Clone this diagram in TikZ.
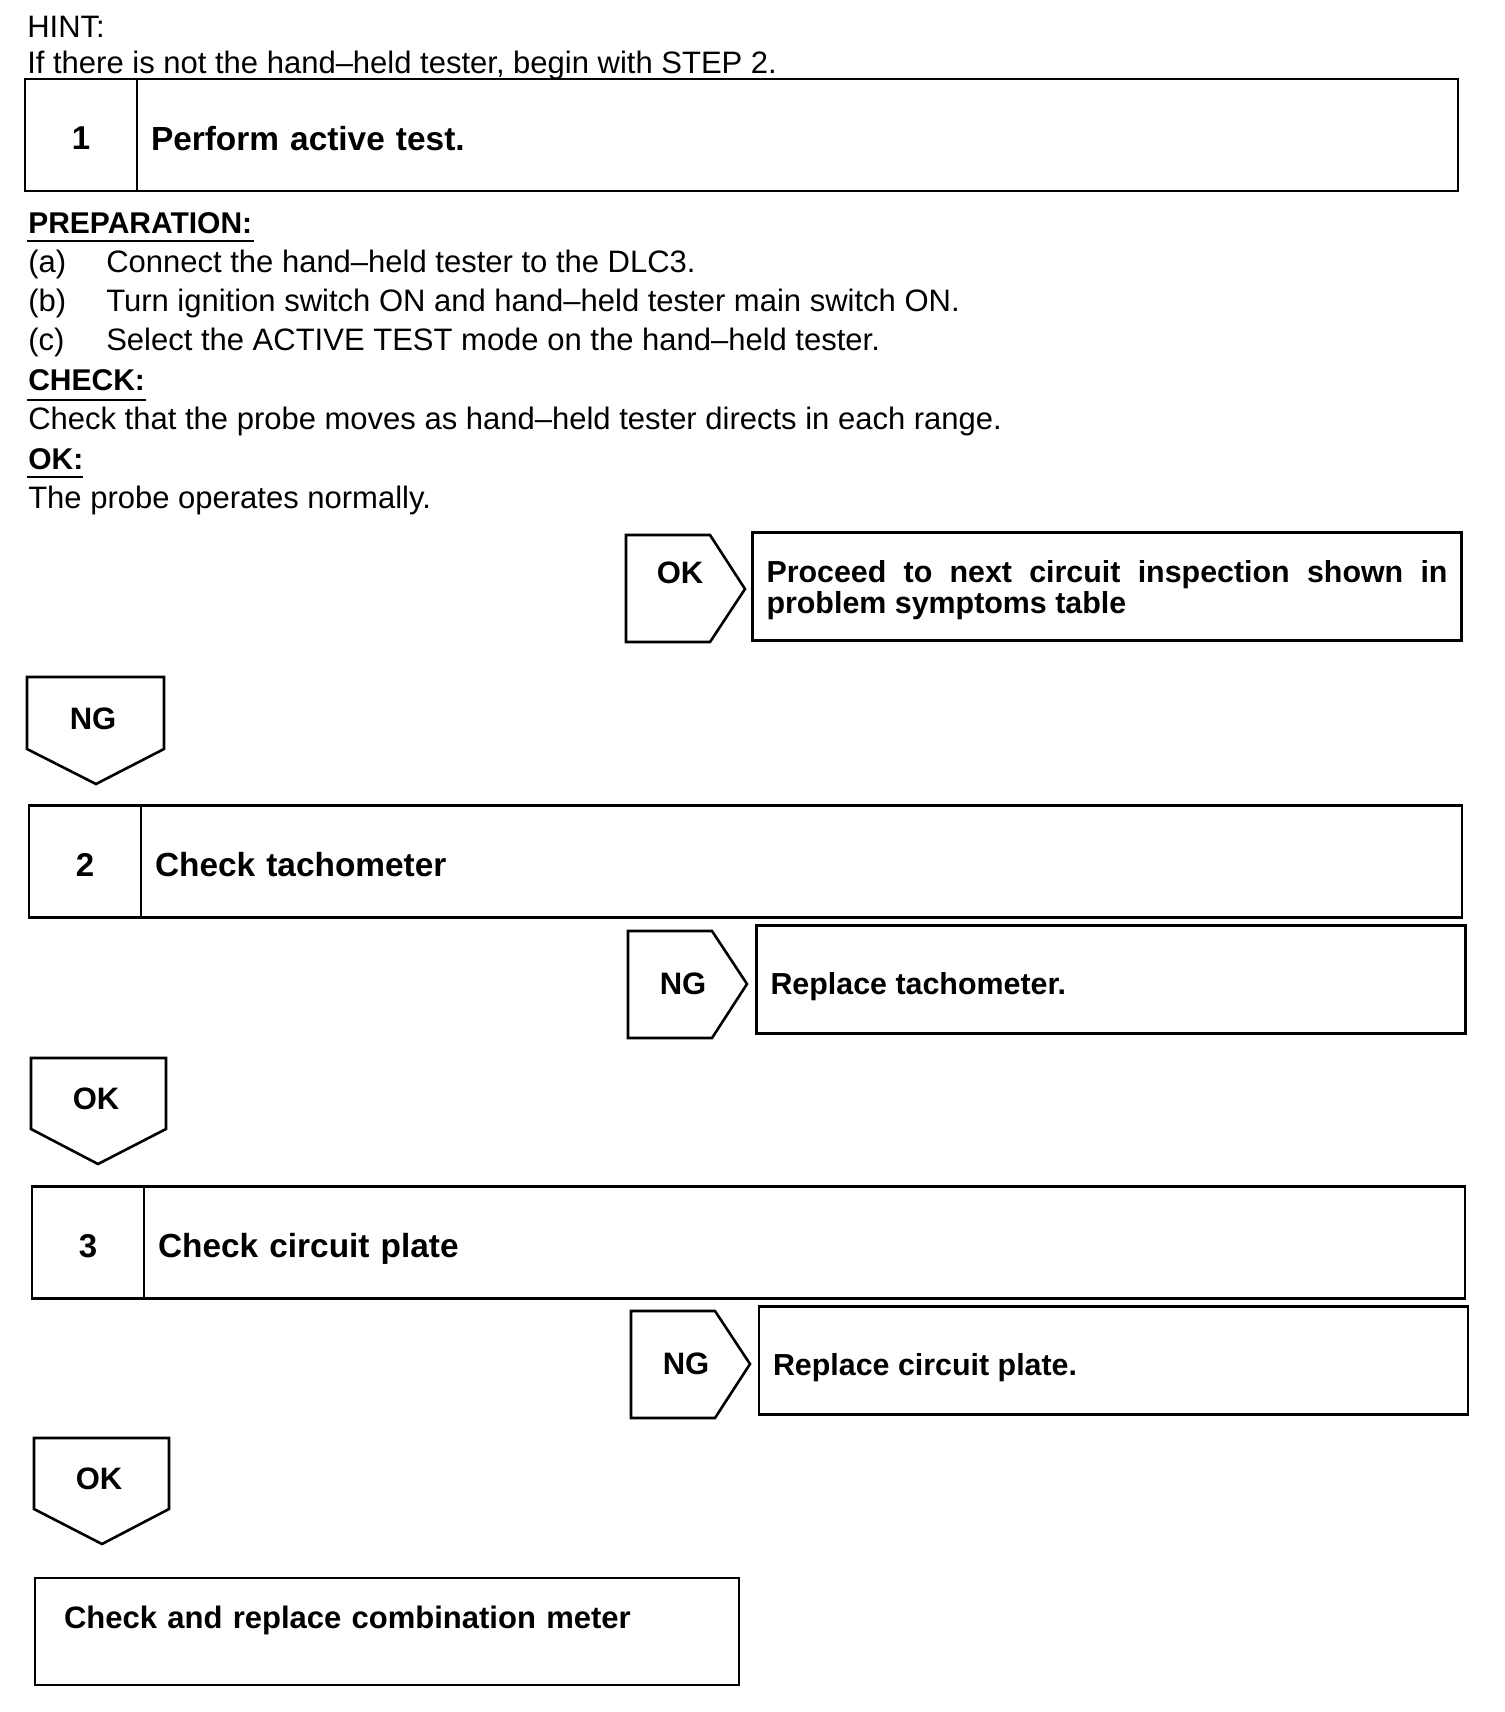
\documentclass[tikz,border=0pt]{standalone}
\usepackage{fontspec}
\setmainfont{Liberation Sans}
\usetikzlibrary{positioning}

\begin{document}
\begin{tikzpicture}[x=0.5pt,y=-0.5pt,line width=1.3pt,
  plaintext/.style={font=\fontsize{15.5}{19}\selectfont,inner sep=0pt},
  headtext/.style={font=\fontsize{15}{19}\selectfont\bfseries,inner sep=0pt},
  tagtext/.style={font=\fontsize{15.5}{19}\selectfont\bfseries,inner sep=0pt},
  numbox/.style={draw,outer sep=0pt,minimum width=56pt,minimum height=56pt,inner sep=0pt,
    text height=15pt,font=\fontsize{16.5}{19}\selectfont\bfseries},
  titlebox/.style={draw,outer sep=0pt,minimum width=660.5pt,minimum height=56pt,inner xsep=7pt,
    text width=646.5pt,align=left,text height=15.4pt,text depth=0pt,
    font=\fontsize{16.7}{19}\selectfont\bfseries},
  resultbox/.style={draw,minimum width=354.5pt,minimum height=54pt,inner xsep=7pt,
    text width=340.5pt,align=justify,text height=14.5pt,
    font=\fontsize{15.2}{15.6}\selectfont\bfseries}
]
\useasboundingbox (0,0) rectangle (1504,1712);

% Hint at the top.
\node[plaintext,anchor=base west] (hint) at (26,38) {HINT:};
\node[plaintext,anchor=base west] (hintline) at (26,74)
  {If there is not the hand--held tester, begin with STEP 2.};

% Step 1.
\node[numbox] (n1) at (81,135) {1};
\node[titlebox,anchor=west] (t1) at (n1.east) {Perform active test.};

% Preparation, check and result text.
\node[headtext,anchor=base west] (prep) at (27,234) {PREPARATION:};
\draw[line width=1pt] (27,241) -- (254,241);
\node[plaintext,anchor=base west] (pa) at (27,272) {(a)};
\node[plaintext,anchor=base west] at (105,272) {Connect the hand--held tester to the DLC3.};
\node[plaintext,anchor=base west] (pb) at (27,311) {(b)};
\node[plaintext,anchor=base west] at (105,311) {Turn ignition switch ON and hand--held tester main switch ON.};
\node[plaintext,anchor=base west] (pc) at (27,350) {(c)};
\node[plaintext,anchor=base west] at (105,350) {Select the ACTIVE TEST mode on the hand--held tester.};
\node[headtext,anchor=base west] (check) at (27,390) {CHECK:};
\draw[line width=1pt] (27,400) -- (146,400);
\node[plaintext,anchor=base west] (checkline) at (27,429)
  {Check that the probe moves as hand--held tester directs in each range.};
\node[headtext,anchor=base west] (okhead) at (27,469) {OK:};
\draw[line width=1pt] (27,477) -- (83,477);
\node[plaintext,anchor=base west] (okline) at (27,508) {The probe operates normally.};

% OK branch of step 1.
\draw (626,535) -- (710,535) -- (745,589) -- (710,642) -- (626,642) -- cycle;
\node[tagtext] (ok1) at (680,573) {OK};
\node[resultbox] (r1) at (1107,586.5)
  {Proceed to next circuit inspection shown in problem symptoms table};

% NG down to step 2.
\draw (27,677) -- (164,677) -- (164,749) -- (96,784) -- (27,749) -- cycle;
\node[tagtext] (ng1) at (93,719) {NG};

% Step 2.
\node[numbox] (n2) at (85,861.5) {2};
\node[titlebox,anchor=west] (t2) at (n2.east) {Check tachometer};

\draw (628,931) -- (712,931) -- (747,984) -- (712,1038) -- (628,1038) -- cycle;
\node[tagtext] (ng2) at (683,984) {NG};
\node[resultbox,text depth=0pt] (r2) at (1111,979.5) {Replace tachometer.};

\draw (31,1058) -- (166,1058) -- (166,1129) -- (98,1164) -- (31,1129) -- cycle;
\node[tagtext] (ok2) at (96,1099) {OK};

% Step 3.
\node[numbox] (n3) at (88,1242.5) {3};
\node[titlebox,anchor=west] (t3) at (n3.east) {Check circuit plate};

\draw (631,1311) -- (715,1311) -- (750,1364) -- (715,1418) -- (631,1418) -- cycle;
\node[tagtext] (ng3) at (686,1364) {NG};
\node[resultbox,text depth=0pt] (r3) at (1113.5,1360.5) {Replace circuit plate.};

\draw (34,1438) -- (169,1438) -- (169,1509) -- (102,1544) -- (34,1509) -- cycle;
\node[tagtext] (ok3) at (99,1479) {OK};

% Last box.
\node[draw,minimum width=352pt,minimum height=53.5pt,inner xsep=14.5pt,
  text width=323pt,align=left,text depth=14pt,
  font=\fontsize{15.5}{19}\selectfont\bfseries] (fin) at (387,1631.5)
  {Check and replace combination meter};

\end{tikzpicture}
\end{document}
